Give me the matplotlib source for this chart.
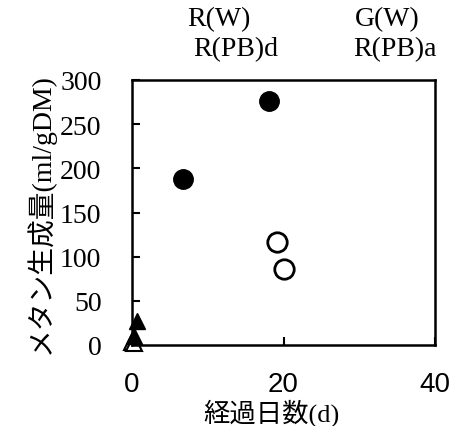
import matplotlib
matplotlib.use('Agg')
from matplotlib import pyplot as plt

# data
filled_circle_x = [6.7, 18.1]
filled_circle_y = [188, 276]
open_circle_x = [19.2, 20.0]
open_circle_y = [117, 86]
filled_tri_x = [0.7, 0.2]
filled_tri_y = [27, 10]
open_tri_x = [0.0, 0.3]
open_tri_y = [3, 2]

x_ticks = [0, 20, 40]
y_ticks = [0, 50, 100, 150, 200, 250, 300]

serif_cjk = ['Liberation Serif', 'Noto Sans CJK JP']

fig = plt.figure(figsize=(4.53, 4.27), dpi=100)
ax = fig.add_axes([132 / 453, 81 / 427, 303 / 453, 265 / 427])

ax.plot(filled_circle_x, filled_circle_y, 'o', color='black', markersize=14, clip_on=False)
ax.plot(open_circle_x, open_circle_y, 'o', markerfacecolor='white', markeredgecolor='black',
        markeredgewidth=2, markersize=14, clip_on=False)
ax.plot(open_tri_x, open_tri_y, '^', markerfacecolor='white', markeredgecolor='black',
        markeredgewidth=1.5, markersize=11, clip_on=False)
ax.plot(filled_tri_x, filled_tri_y, '^', color='black', markersize=11, clip_on=False)

ax.set_xlim(0, 40)
ax.set_ylim(0, 300)
ax.set_xticks(x_ticks)
ax.set_yticks(y_ticks)
ax.tick_params(axis='both', direction='in', length=6, width=1.5)
ax.tick_params(axis='x', pad=19, labelsize=20)
ax.tick_params(axis='y', pad=22, labelsize=20)
for lab in ax.get_xticklabels():
    lab.set_family('Liberation Sans')
for lab in ax.get_yticklabels():
    lab.set_family('Liberation Serif')
for s in ax.spines.values():
    s.set_linewidth(1.8)

ax.set_xlabel('経過日数(d)', family=serif_cjk, fontsize=19)
ax.xaxis.set_label_coords(0.46, -0.2)
ax.set_ylabel('メタン生成量(ml/gDM)', family=serif_cjk, fontsize=20, labelpad=4)

# legend remnants above the plot
top_font = dict(family='Liberation Serif', fontsize=20, ha='center', va='center')
fig.text(219 / 453, 1 - 20 / 427, 'R(W)', **top_font)
fig.text(236 / 453, 1 - 50 / 427, 'R(PB)d', **top_font)
fig.text(387 / 453, 1 - 20 / 427, 'G(W)', **top_font)
fig.text(395 / 453, 1 - 50 / 427, 'R(PB)a', **top_font)

fig.savefig('out.png', dpi=100)
